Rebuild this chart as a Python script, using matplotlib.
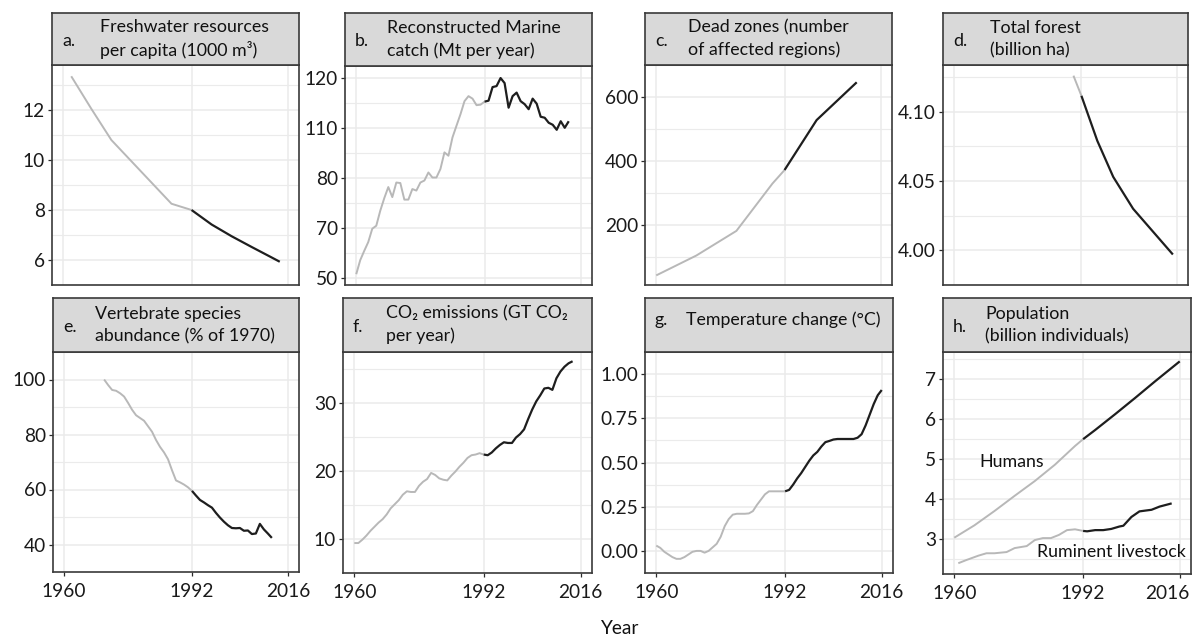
import numpy as np
import matplotlib
matplotlib.use("Agg")
import matplotlib.pyplot as plt
from matplotlib.ticker import FixedLocator, FormatStrFormatter, FixedFormatter
from matplotlib.scale import FuncScale
from matplotlib.transforms import ScaledTranslation

plt.rcParams['font.family'] = ['Lato', 'DejaVu Sans']

# ---------------- data ----------------
split_year = 1992

fresh_years = [1962, 1967, 1972, 1977, 1982, 1987, 1992, 1997, 2002, 2007, 2012, 2014]
fresh_vals = [13.35, 12.05, 10.8, 9.95, 9.1, 8.25, 8.0, 7.42, 6.95, 6.52, 6.1, 5.93]

catch_years = list(range(1960, 2014))
catch_vals = [51.7, 57.3, 61.0, 64.5, 69.8, 70.5, 73.5, 76.0, 78.2, 76.2, 79.1, 79.0, 75.7,
              75.7, 77.8, 77.5, 79.1, 79.5, 83.3, 80.3, 80.3, 85.4, 95.3, 93.3, 104.2, 110.4,
              112.7, 115.3, 116.3, 115.8, 114.5, 114.6, 115.2, 115.4, 118.1, 118.3, 119.9,
              118.9, 114.0, 116.3, 117.0, 115.3, 114.7, 113.7, 115.8, 114.8, 112.2, 112.0,
              111.0, 110.6, 108.8, 111.3, 110.0, 111.3]

dead_years = [1960, 1970, 1980, 1989, 1992, 2000, 2010]
dead_vals = [43, 105, 182, 330, 372, 528, 646]

forest_years = [1990, 1992, 1996, 2000, 2005, 2010, 2015]
forest_vals = [4.126, 4.1115, 4.079, 4.053, 4.030, 4.0135, 3.997]

vert_years = list(range(1970, 2013))
vert_vals = [100, 98, 96.2, 95.9, 95, 93.8, 91.5, 89, 87, 86, 85, 83, 81, 78, 75.5, 73.5,
             71, 67, 63.3, 62.6, 61.8, 60.8, 59.5, 57.8, 56.2, 55.3, 54.3, 53.4, 51.5, 49.8,
             48.3, 47, 46, 45.9, 46, 45, 45.1, 43.8, 44, 47.5, 45.5, 44, 42.4]

co2_years = list(range(1960, 2015))
co2_vals = [9.4, 9.4, 9.9, 10.5, 11.2, 11.8, 12.4, 12.9, 13.6, 14.5, 15.1, 15.7, 16.5, 17.0,
            16.9, 16.9, 17.8, 18.4, 18.8, 19.7, 19.4, 18.9, 18.7, 18.6, 19.3, 19.9, 20.6,
            21.2, 21.9, 22.3, 22.4, 22.6, 22.4, 22.3, 22.7, 23.3, 23.8, 24.2, 24.1, 24.1,
            24.9, 25.4, 26.1, 27.6, 29.0, 30.2, 31.1, 32.1, 32.2, 31.9, 33.6, 34.6, 35.3,
            35.8, 36.1]

temp_years = list(range(1960, 2017))
temp_vals = [0.03, 0.017, -0.005, -0.02, -0.035, -0.045, -0.045, -0.035, -0.02, -0.005,
             0.0, 0.0, -0.01, 0.0, 0.02, 0.04, 0.08, 0.14, 0.18, 0.205, 0.21, 0.21, 0.21,
             0.212, 0.225, 0.26, 0.29, 0.32, 0.337, 0.337, 0.337, 0.337, 0.337, 0.345, 0.375,
             0.41, 0.44, 0.475, 0.51, 0.54, 0.56, 0.59, 0.615, 0.622, 0.63, 0.633, 0.633,
             0.633, 0.633, 0.633, 0.64, 0.66, 0.71, 0.77, 0.83, 0.88, 0.91]

human_years = [1960, 1965, 1970, 1975, 1980, 1985, 1990, 1992, 1995, 2000, 2005, 2010, 2016]
human_vals = [3.03, 3.34, 3.70, 4.08, 4.45, 4.86, 5.33, 5.50, 5.73, 6.13, 6.54, 6.96, 7.45]

live_years = [1961, 1963, 1966, 1968, 1970, 1973, 1975, 1978, 1980, 1982, 1984, 1986, 1988,
              1990, 1992, 1993, 1995, 1997, 1999, 2001, 2002, 2004, 2006, 2009, 2011, 2014]
live_vals = [2.39, 2.47, 2.58, 2.64, 2.64, 2.67, 2.77, 2.82, 2.97, 3.02, 3.02, 3.10, 3.22,
             3.24, 3.20, 3.19, 3.22, 3.22, 3.25, 3.31, 3.33, 3.55, 3.69, 3.73, 3.81, 3.89]

# panel b axis break values (equally spaced on the original axis)
catch_ticks = [50, 70, 80, 110, 120]

titles = [
    ("a.", "Freshwater resources\nper capita (1000 m\u00b3)"),
    ("b.", "Reconstructed Marine\ncatch (Mt per year)"),
    ("c.", "Dead zones (number\nof affected regions)"),
    ("d.", "Total forest\n(billion ha)"),
    ("e.", "Vertebrate species\nabundance (% of 1970)"),
    ("f.", "CO\u2082 emissions (GT CO\u2082\nper year)"),
    ("g.", "Temperature change (\u00b0C)"),
    ("h.", "Population\n(billion individuals)"),
]

x_ticks = [1960, 1992, 2016]

# ---------------- style ----------------
W, H = 1194, 637
GRAY = "#b8b8b8"
DARK = "#1e1e1e"
GRID = "#ebebeb"
EDGE = "#3a3a3a"
TICKC = "#2a2a2a"
FS_TICK = 13.8
FS_STRIP = 12.8

fig = plt.figure(figsize=(W / 100, H / 100), dpi=100)

boxes = [
    (52, 299, 65, 285), (345, 592, 66, 285), (645, 892, 65, 285), (943, 1188, 65, 285),
    (53, 299, 352, 572), (343, 592, 352, 573), (645, 893, 352, 573), (943, 1191, 352, 574),
]
strip_rows = [(13, 65), (298, 352)]
text_offsets = [48, 42, 43, 47, 42, 43, 41, 42]


def add_box(l, r, t, b):
    return fig.add_axes([l / W, 1 - b / H, (r - l) / W, (b - t) / H])


def style_axes(ax, bottom_row):
    ax.set_xlim(1957.2, 2018.8)
    ax.set_xticks(x_ticks)
    ax.grid(True, which='major', axis='both', color=GRID, lw=1.1, zorder=0)
    ax.grid(True, which='minor', axis='y', color=GRID, lw=0.8, zorder=0)
    ax.set_axisbelow(True)
    for s in ax.spines.values():
        s.set_color(EDGE)
        s.set_linewidth(1.2)
    ax.tick_params(axis='y', which='major', length=3, width=0.9, color=TICKC,
                   labelsize=FS_TICK, labelcolor="#1a1a1a", pad=2)
    ax.tick_params(axis='y', which='minor', length=0)
    if bottom_row:
        ax.set_xticklabels([str(v) for v in x_ticks])
        ax.tick_params(axis='x', which='major', length=3, width=0.9, color=TICKC,
                       labelsize=FS_TICK, labelcolor="#1a1a1a", pad=5)
    else:
        ax.tick_params(axis='x', which='major', length=0, labelbottom=False)
    ax.tick_params(axis='x', which='minor', length=0)


def plot_split(ax, years, vals):
    years = np.asarray(years, dtype=float)
    vals = np.asarray(vals, dtype=float)
    pre = years <= split_year
    post = years >= split_year
    ax.plot(years[pre], vals[pre], color=GRAY, lw=1.4, solid_capstyle='butt', zorder=3)
    ax.plot(years[post], vals[post], color=DARK, lw=1.6, solid_capstyle='butt', zorder=3)


def set_major_minor(ax, major, lim):
    ax.set_ylim(*lim)
    ax.set_yticks(major)
    step = major[1] - major[0]
    minor = np.arange(major[0] - step / 2, major[-1] + step, step)
    ax.set_yticks(minor, minor=True)


axes = []
for i, (l, r, t, b) in enumerate(boxes):
    ax = add_box(l, r, t, b)
    style_axes(ax, i >= 4)
    st, sb = strip_rows[0] if i < 4 else strip_rows[1]
    sax = add_box(l, r, st, t)
    sax.set_facecolor("#d9d9d9")
    sax.set_xticks([]); sax.set_yticks([])
    for s in sax.spines.values():
        s.set_color(EDGE)
        s.set_linewidth(1.2)
    letter, txt = titles[i]
    two = "\n" in txt
    ymid = 0.5 if two else 0.6
    sax.text(10 / (r - l), ymid - (0.03 if two else 0), letter, transform=sax.transAxes,
             ha='left', va='center', fontsize=FS_STRIP, color="#111111")
    sax.text(text_offsets[i] / (r - l), ymid, txt, transform=sax.transAxes, ha='left',
             va='center', fontsize=FS_STRIP, color="#111111", linespacing=1.45)
    axes.append(ax)

# a
ax = axes[0]
plot_split(ax, fresh_years, fresh_vals)
set_major_minor(ax, [6, 8, 10, 12], (5.55, 13.8))

# b: equally spaced axis breaks
pos_idx = np.arange(len(catch_ticks), dtype=float)
v = np.asarray(catch_ticks, dtype=float)
lo_slope = (v[1] - v[0])
hi_slope = (v[-1] - v[-2])
ext_v = np.concatenate([[v[0] - 100 * lo_slope], v, [v[-1] + 100 * hi_slope]])
ext_p = np.concatenate([[-100.0], pos_idx, [pos_idx[-1] + 100]])


def fwd(x):
    return np.interp(x, ext_v, ext_p)


def inv(p):
    return np.interp(p, ext_p, ext_v)


ax = axes[1]
ax.set_yscale(FuncScale(ax, (fwd, inv)))
plot_split(ax, catch_years, catch_vals)
ax.set_ylim(inv(-0.13), inv(4.23))
ax.yaxis.set_major_locator(FixedLocator(catch_ticks))
ax.yaxis.set_major_formatter(FixedFormatter([str(t) for t in catch_ticks]))
ax.yaxis.set_minor_locator(FixedLocator(list(inv(pos_idx[:-1] + 0.5))))
ax.tick_params(axis='y', which='minor', length=0)

# c
ax = axes[2]
plot_split(ax, dead_years, dead_vals)
set_major_minor(ax, [200, 400, 600], (13, 680))

# d
ax = axes[3]
plot_split(ax, forest_years, forest_vals)
set_major_minor(ax, [4.00, 4.05, 4.10], (3.990, 4.1337))
ax.yaxis.set_major_formatter(FormatStrFormatter('%.2f'))

# e
ax = axes[4]
plot_split(ax, vert_years, vert_vals)
set_major_minor(ax, [40, 60, 80, 100], (39.4, 103.1))

# f
ax = axes[5]
plot_split(ax, co2_years, co2_vals)
set_major_minor(ax, [10, 20, 30], (8.2, 37.46))

# g
ax = axes[6]
plot_split(ax, temp_years, temp_vals)
set_major_minor(ax, [0.0, 0.25, 0.5, 0.75, 1.0], (-0.099, 1.054))
ax.yaxis.set_major_formatter(FormatStrFormatter('%.2f'))

# h
ax = axes[7]
plot_split(ax, human_years, human_vals)
plot_split(ax, live_years, live_vals)
set_major_minor(ax, [3, 4, 5, 6, 7], (2.12, 7.685))
ax.text(1974.2, 4.93, "Humans", ha='center', va='center', fontsize=FS_STRIP, color="#111111")
ax.text(1998.9, 2.67, "Ruminent livestock", ha='center', va='center', fontsize=FS_STRIP,
        color="#111111")
# keep the last year label inside the figure
last = ax.get_xticklabels()[-1]
last.set_transform(last.get_transform() + ScaledTranslation(-0.12, 0, fig.dpi_scale_trans))

fig.text(619 / W, 1 - 628 / H, "Year", ha='center', va='center', fontsize=FS_TICK,
         color="#111111")

fig.savefig("out.png", dpi=100, facecolor="white")
